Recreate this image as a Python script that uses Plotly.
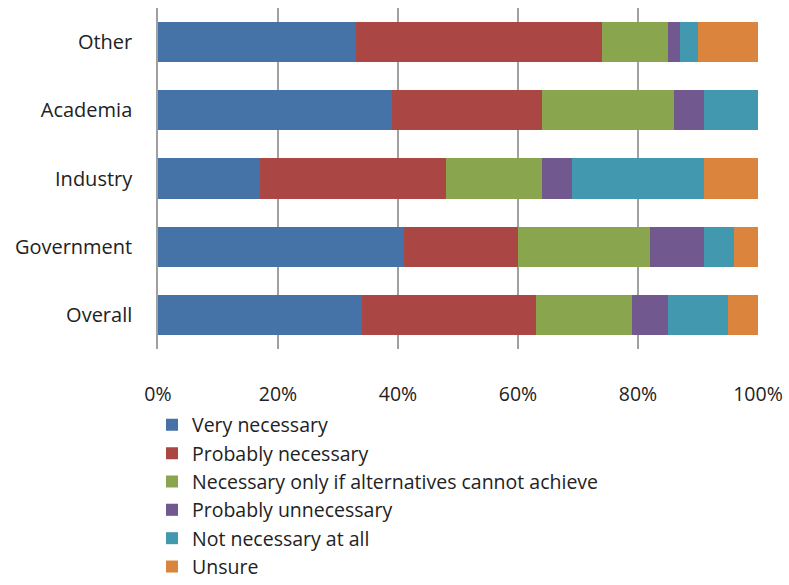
import plotly.graph_objects as go

categories = ["Overall", "Government", "Industry", "Academia", "Other"]
series_names = [
    "Very necessary",
    "Probably necessary",
    "Necessary only if alternatives cannot achieve",
    "Probably unnecessary",
    "Not necessary at all",
    "Unsure",
]
very_necessary = [34, 41, 17, 39, 33]
probably_necessary = [29, 19, 31, 25, 41]
necessary_only_if = [16, 22, 16, 22, 11]
probably_unnecessary = [6, 9, 5, 5, 2]
not_necessary = [10, 5, 22, 9, 3]
unsure = [5, 4, 9, 0, 10]
x_ticks = [0, 20, 40, 60, 80, 100]
x_tick_labels = ["0%", "20%", "40%", "60%", "80%", "100%"]

colors = ["#4572A7", "#AA4643", "#89A54E", "#71588F", "#4198AF", "#DB843D"]
values = [very_necessary, probably_necessary, necessary_only_if,
          probably_unnecessary, not_necessary, unsure]

fig = go.Figure()
for name, vals, col in zip(series_names, values, colors):
    fig.add_trace(go.Bar(
        y=categories, x=vals, name=name, orientation="h",
        marker=dict(color=col, line=dict(width=0)),
        legendgroup=name,
    ))

font_family = "'Open Sans', Lato, sans-serif"
fig.update_layout(
    barmode="stack",
    bargap=0.41,
    width=789, height=585,
    margin=dict(l=158, r=31, t=8, b=236, autoexpand=False),
    plot_bgcolor="white", paper_bgcolor="white",
    font=dict(family=font_family, size=20, color="#222222"),
    showlegend=True,
    legend=dict(
        orientation="v", x=-0.01, xanchor="left", y=-0.166, yanchor="top",
        traceorder="normal", tracegroupgap=0,
        font=dict(family=font_family, size=19.5, color="#222222"),
        bgcolor="rgba(0,0,0,0)",
    ),
    xaxis=dict(
        range=[0, 100], tickvals=x_ticks, ticktext=x_tick_labels,
        showgrid=True, gridcolor="#A0A0A0", gridwidth=1.5,
        zeroline=False, showline=False, ticks="",
        ticklabelstandoff=31,
        tickfont=dict(family=font_family, size=19.5, color="#222222"),
        fixedrange=True,
    ),
    yaxis=dict(
        categoryorder="array", categoryarray=categories,
        showline=True, linecolor="#A0A0A0", linewidth=1.5,
        showgrid=False, ticks="", ticklabelstandoff=20,
        tickfont=dict(family=font_family, size=20, color="#222222"),
        fixedrange=True,
    ),
)

fig.write_html("out.html")
